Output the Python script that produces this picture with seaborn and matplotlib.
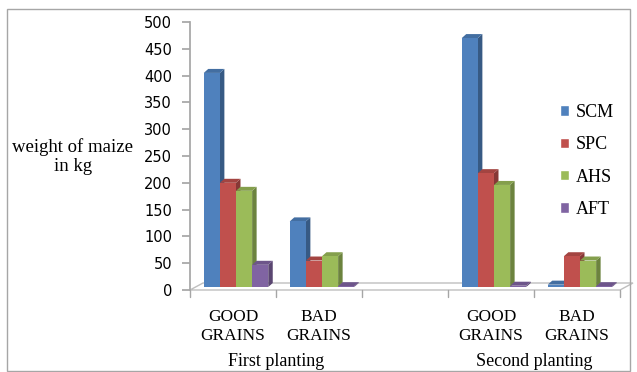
import matplotlib
matplotlib.use("Agg")
import matplotlib.pyplot as plt
import seaborn as sns
import pandas as pd
import numpy as np
from matplotlib.patches import Polygon, Rectangle
from matplotlib.colors import to_rgb

# ---- data ----
slots = ["F_GOOD", "F_BAD", "GAP", "S_GOOD", "S_BAD"]
tick_labels = ["GOOD\nGRAINS", "BAD\nGRAINS", "", "GOOD\nGRAINS", "BAD\nGRAINS"]
groups = ["First planting", "Second planting"]
series = ["SCM", "SPC", "AHS", "AFT"]
scm = [405, 128, 470, 10]
spc = [200, 55, 218, 63]
ahs = [185, 63, 196, 55]
aft = [47, 3, 8, 5]
data_slots = ["F_GOOD", "F_BAD", "S_GOOD", "S_BAD"]
colors = ["#4F81BD", "#C0504D", "#9BBB59", "#8064A2"]

rows = []
for name, vals in zip(series, [scm, spc, ahs, aft]):
    for s, v in zip(data_slots, vals):
        rows.append({"slot": s, "series": name, "value": v})
df = pd.DataFrame(rows)

sns.set_theme(style="white")
plt.rcParams["font.family"] = ["Liberation Serif", "DejaVu Serif"]
plt.rcParams["text.color"] = "black"
plt.rcParams["xtick.labelcolor"] = "black"
plt.rcParams["ytick.labelcolor"] = "black"

W, H = 637, 372
fig = plt.figure(figsize=(W / 100, H / 100), dpi=100)
left, right, bottom, top = 190, 620, 290, 22
ax = fig.add_axes([left / W, 1 - bottom / H, (right - left) / W, (bottom - top) / H])

sns.barplot(data=df, x="slot", y="value", hue="series", order=slots,
            hue_order=series, palette=colors, width=0.75, saturation=1,
            linewidth=0, ax=ax, legend=False)
ax.set_xlim(-0.5, 4.5)
ax.set_ylim(0, 500)

px_x = 5.0 / (right - left)
px_y = 500.0 / (bottom - top)

def darker(c, f):
    r, g, b = to_rgb(c)
    return (r * f, g * f, b * f)

# floor
fdx, fdy = 13 * px_x, 7 * px_y
floor = Polygon([(-0.5, 0), (4.5, 0), (4.5 + fdx, fdy), (-0.5 + fdx, fdy)],
                closed=True, facecolor="white", edgecolor="#BFBFBF", lw=1,
                clip_on=False, zorder=0.5)
ax.add_patch(floor)

# 3D faces for bars
dx, dy = 4.5 * px_x, 4 * px_y
shift = 3 * px_x
bars = [p for p in ax.patches if isinstance(p, Rectangle) and p is not floor]
for p in bars:
    x, w, h = p.get_x(), p.get_width(), p.get_height()
    if w <= 0:
        continue
    c = p.get_facecolor()
    x = x + shift
    p.set_x(x)
    p.set_zorder(3)
    y0 = 3 * px_y
    p.set_y(y0)
    hh = max(h, y0 + 1.5)
    p.set_height(hh - y0)
    side = Polygon([(x + w, y0), (x + w + dx, y0 + dy), (x + w + dx, hh + dy), (x + w, hh)],
                   closed=True, facecolor=darker(c, 0.7), edgecolor="none", zorder=2, clip_on=False)
    topf = Polygon([(x, hh), (x + dx, hh + dy), (x + w + dx, hh + dy), (x + w, hh)],
                   closed=True, facecolor=darker(c, 0.85), edgecolor="none", zorder=2, clip_on=False)
    ax.add_patch(side)
    ax.add_patch(topf)

# axes styling
for s in ["top", "right"]:
    ax.spines[s].set_visible(False)
ax.spines["left"].set_color("#A6A6A6")
ax.spines["bottom"].set_visible(False)
ax.set_yticks(np.arange(0, 501, 50))
ax.tick_params(axis="y", length=6, color="#A6A6A6", left=True, pad=7)
for t in ax.get_yticklabels():
    t.set_fontfamily(["DejaVu Sans"])
    t.set_fontsize(10.5)
ax.set_xticks([0, 1, 2, 3, 4])
ax.set_xticklabels(tick_labels, fontsize=12.5, linespacing=1.2)
ax.tick_params(axis="x", length=0, pad=14)
for xb in np.arange(-0.5, 4.6, 1.0):
    ax.plot([xb, xb], [0, -7 * px_y], color="#A6A6A6", lw=1, clip_on=False)
ax.set_xlabel("")
ax.set_ylabel("")

for xg, g in zip([0.5, 3.5], groups):
    ax.text(xg, -72 * px_y, g, ha="center", va="center", fontsize=13, clip_on=False)

fig.text(73 / W, 1 - 157 / H, "weight of maize\nin kg", ha="center", va="center",
         fontsize=13.5, linespacing=1.15)

handles = [Rectangle((0, 0), 1, 1, facecolor=c) for c in colors]
fig.legend(handles, series, loc="upper left", bbox_to_anchor=(560 / W, 1 - 104 / H),
           frameon=False, fontsize=13, handlelength=0.5, handleheight=0.5,
           handletextpad=0.35, labelspacing=0.85, borderaxespad=0, borderpad=0)

fig.patches.append(Rectangle((7 / W, 1 / H), 623 / W, 362 / H, transform=fig.transFigure,
                             fill=False, edgecolor="#A6A6A6", lw=1))

fig.savefig("out.png", dpi=100)
